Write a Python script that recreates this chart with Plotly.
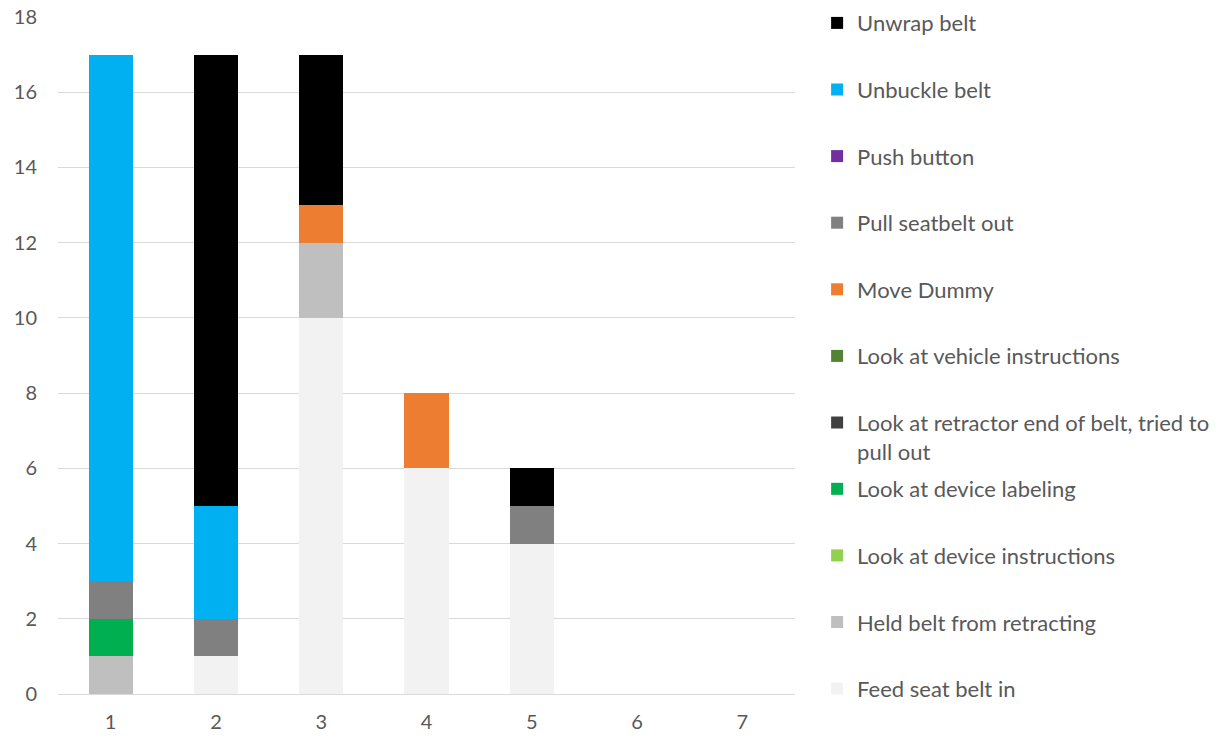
import plotly.graph_objects as go

# Trial numbers on the x axis
trials = ["1", "2", "3", "4", "5", "6", "7"]

# Step counts per action for each trial (stacked bottom to top)
feed_seat_belt_in = [0, 1, 10, 6, 4, 0, 0]
held_belt_from_retracting = [1, 0, 2, 0, 0, 0, 0]
look_at_device_instructions = [0, 0, 0, 0, 0, 0, 0]
look_at_device_labeling = [1, 0, 0, 0, 0, 0, 0]
look_at_retractor_end = [0, 0, 0, 0, 0, 0, 0]
look_at_vehicle_instructions = [0, 0, 0, 0, 0, 0, 0]
move_dummy = [0, 0, 1, 2, 0, 0, 0]
pull_seatbelt_out = [1, 1, 0, 0, 1, 0, 0]
push_button = [0, 0, 0, 0, 0, 0, 0]
unbuckle_belt = [14, 3, 0, 0, 0, 0, 0]
unwrap_belt = [0, 12, 4, 0, 1, 0, 0]

y_ticks = [0, 2, 4, 6, 8, 10, 12, 14, 16, 18]

# (label, values, colour, legend box)
series = [
    ("Feed seat belt in", feed_seat_belt_in, "#F2F2F2", "legend2"),
    ("Held belt from retracting", held_belt_from_retracting, "#BFBFBF", "legend2"),
    ("Look at device instructions", look_at_device_instructions, "#92D050", "legend2"),
    ("Look at device labeling", look_at_device_labeling, "#00B050", "legend2"),
    ("Look at retractor end of belt, tried to<br>pull out", look_at_retractor_end, "#404040", "legend"),
    ("Look at vehicle instructions", look_at_vehicle_instructions, "#548235", "legend"),
    ("Move Dummy", move_dummy, "#ED7D31", "legend"),
    ("Pull seatbelt out", pull_seatbelt_out, "#808080", "legend"),
    ("Push button", push_button, "#7030A0", "legend"),
    ("Unbuckle belt", unbuckle_belt, "#00B0F0", "legend"),
    ("Unwrap belt", unwrap_belt, "#000000", "legend"),
]

fig = go.Figure()
n = len(series)
for i, (name, values, color, leg) in enumerate(series):
    fig.add_trace(go.Bar(
        x=trials, y=values, name=name,
        marker=dict(color=color, line=dict(width=0)),
        legendgroup=f"g{i}",
        legendrank=n - i,
        legend=leg,
    ))

legend_style = dict(
    xanchor="left", yanchor="top",
    traceorder="grouped", tracegroupgap=35,
    valign="top",
    font=dict(size=22, color="#595959"),
    itemwidth=30,
    maxheight=740,
    bgcolor="rgba(0,0,0,0)",
)

fig.update_layout(
    barmode="stack",
    bargap=0.58,
    width=1231, height=740,
    margin=dict(l=58, r=436, t=17, b=46, autoexpand=False),
    plot_bgcolor="white", paper_bgcolor="white",
    font=dict(family="Lato, Open Sans, sans-serif", size=20, color="#595959"),
    xaxis=dict(
        type="category", range=[-0.5, 6.5],
        showgrid=False, showline=False, ticks="",
        tickfont=dict(size=20, color="#595959"),
        ticklabelstandoff=14,
    ),
    yaxis=dict(
        range=[0, 18], tickvals=y_ticks,
        showgrid=True, gridcolor="#D9D9D9", gridwidth=1,
        zeroline=True, zerolinecolor="#D9D9D9", zerolinewidth=1,
        showline=False, ticks="",
        tickfont=dict(size=20, color="#595959"),
        ticklabelstandoff=20,
    ),
    legend=dict(x=1.03, y=1.022, **legend_style),
    legend2=dict(x=1.03, y=0.3338, **legend_style),
)

fig.write_html("out.html")
